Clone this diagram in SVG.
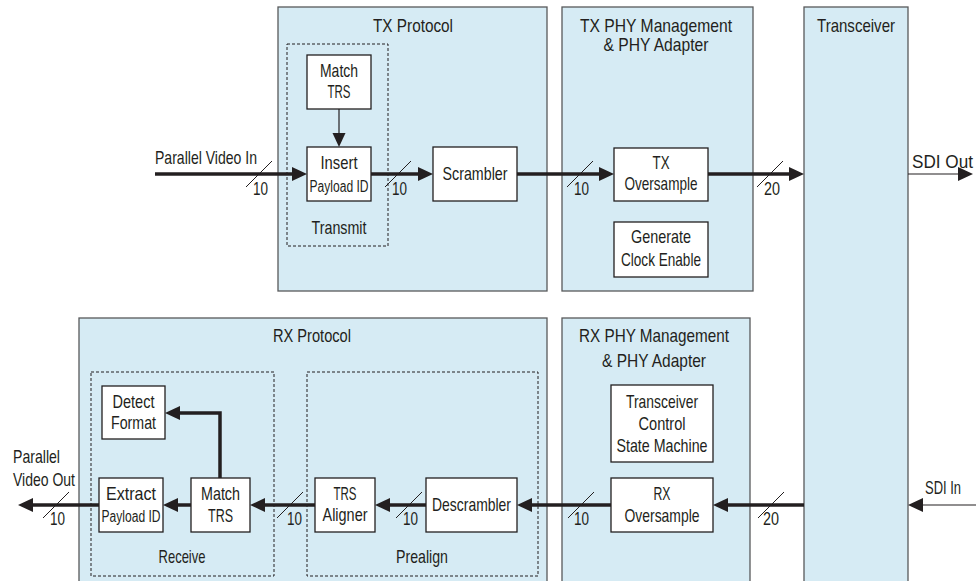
<svg xmlns="http://www.w3.org/2000/svg" width="976" height="581" viewBox="0 0 976 581">
<style>
text{font-family:"Liberation Sans",Arial,sans-serif;font-size:18.5px;fill:#231f20}
.c{text-anchor:middle}
.sm{font-size:16px}
.cont{fill:#d6ebf4;stroke:#58595b;stroke-width:1.3}
.blk{fill:#fff;stroke:#231f20;stroke-width:1.3}
.dash{fill:none;stroke:#231f20;stroke-width:1;stroke-dasharray:3 2}
.bus{fill:none;stroke:#231f20;stroke-width:3.5}
.thin{fill:none;stroke:#231f20;stroke-width:1.2}
.sl{stroke:#231f20;stroke-width:1}
</style>
<defs>
<marker id="ah" markerUnits="userSpaceOnUse" markerWidth="16" markerHeight="14" refX="1" refY="7" orient="auto" overflow="visible">
<path d="M0,0 L15,7 L0,14z" fill="#231f20"/>
</marker>
<marker id="ahs" markerUnits="userSpaceOnUse" markerWidth="15" markerHeight="13" refX="1" refY="6.5" orient="auto" overflow="visible">
<path d="M0,0 L14,6.5 L0,13z" fill="#231f20"/>
</marker>
</defs>

<!-- containers -->
<g id="tx-protocol">
<rect class="cont" x="278" y="7" width="269" height="284"/>
<text class="c" x="413" y="32" textLength="80" lengthAdjust="spacingAndGlyphs">TX Protocol</text>
</g>
<g id="tx-phy">
<rect class="cont" x="562" y="7" width="191" height="284"/>
<text class="c" x="656" y="32" textLength="152" lengthAdjust="spacingAndGlyphs">TX PHY Management</text>
<text class="c" x="656" y="51" textLength="105" lengthAdjust="spacingAndGlyphs">&amp; PHY Adapter</text>
</g>
<g id="transceiver">
<rect class="cont" x="804" y="7" width="104" height="590"/>
<text class="c" x="856" y="32" textLength="78" lengthAdjust="spacingAndGlyphs">Transceiver</text>
</g>
<g id="rx-protocol">
<rect class="cont" x="79" y="318" width="468" height="280"/>
<text class="c" x="312" y="342" textLength="78" lengthAdjust="spacingAndGlyphs">RX Protocol</text>
</g>
<g id="rx-phy">
<rect class="cont" x="562" y="318" width="188" height="280"/>
<text class="c" x="654" y="342" textLength="150" lengthAdjust="spacingAndGlyphs">RX PHY Management</text>
<text class="c" x="654" y="367" textLength="104" lengthAdjust="spacingAndGlyphs">&amp; PHY Adapter</text>
</g>

<!-- dashed groups -->
<g id="transmit">
<rect class="dash" x="287" y="44" width="101" height="202"/>
<text class="c" x="339" y="234" textLength="55" lengthAdjust="spacingAndGlyphs">Transmit</text>
</g>
<g id="receive">
<rect class="dash" x="91" y="372" width="183" height="204"/>
<text class="c" x="182" y="563" textLength="47" lengthAdjust="spacingAndGlyphs">Receive</text>
</g>
<g id="prealign">
<rect class="dash" x="307" y="372" width="231" height="204"/>
<text class="c" x="422" y="563" textLength="52" lengthAdjust="spacingAndGlyphs">Prealign</text>
</g>

<!-- blocks -->
<g id="tx-match-trs">
<rect class="blk" x="307" y="55" width="64" height="54"/>
<text class="c" x="339" y="77" textLength="38" lengthAdjust="spacingAndGlyphs">Match</text>
<text class="c" x="339" y="98" textLength="23" lengthAdjust="spacingAndGlyphs">TRS</text>
</g>
<g id="insert-payload-id">
<rect class="blk" x="307" y="147" width="64" height="54"/>
<text class="c" x="339" y="169" textLength="37" lengthAdjust="spacingAndGlyphs">Insert</text>
<text class="c sm" x="339" y="192" textLength="59" lengthAdjust="spacingAndGlyphs">Payload ID</text>
</g>
<g id="scrambler">
<rect class="blk" x="433" y="147" width="84" height="54"/>
<text class="c" x="475" y="180" textLength="65" lengthAdjust="spacingAndGlyphs">Scrambler</text>
</g>
<g id="tx-oversample">
<rect class="blk" x="614" y="148" width="94" height="53"/>
<text class="c" x="661" y="169" textLength="17" lengthAdjust="spacingAndGlyphs">TX</text>
<text class="c" x="661" y="190" textLength="73" lengthAdjust="spacingAndGlyphs">Oversample</text>
</g>
<g id="generate-clock-enable">
<rect class="blk" x="614" y="222" width="94" height="55"/>
<text class="c" x="661" y="243" textLength="60" lengthAdjust="spacingAndGlyphs">Generate</text>
<text class="c" x="661" y="266" textLength="80" lengthAdjust="spacingAndGlyphs">Clock Enable</text>
</g>
<g id="detect-format">
<rect class="blk" x="102" y="386" width="63" height="53"/>
<text class="c" x="133.5" y="408" textLength="42" lengthAdjust="spacingAndGlyphs">Detect</text>
<text class="c" x="133.5" y="429" textLength="45" lengthAdjust="spacingAndGlyphs">Format</text>
</g>
<g id="extract-payload-id">
<rect class="blk" x="99" y="478" width="64" height="54"/>
<text class="c" x="131" y="500" textLength="50" lengthAdjust="spacingAndGlyphs">Extract</text>
<text class="c sm" x="131" y="522" textLength="59" lengthAdjust="spacingAndGlyphs">Payload ID</text>
</g>
<g id="rx-match-trs">
<rect class="blk" x="191" y="478" width="59" height="54"/>
<text class="c" x="220.5" y="500" textLength="39" lengthAdjust="spacingAndGlyphs">Match</text>
<text class="c" x="220.5" y="522" textLength="25" lengthAdjust="spacingAndGlyphs">TRS</text>
</g>
<g id="trs-aligner">
<rect class="blk" x="315" y="478" width="60" height="54"/>
<text class="c" x="345" y="500" textLength="23" lengthAdjust="spacingAndGlyphs">TRS</text>
<text class="c" x="345" y="521" textLength="45" lengthAdjust="spacingAndGlyphs">Aligner</text>
</g>
<g id="descrambler">
<rect class="blk" x="426" y="478" width="91" height="54"/>
<text class="c" x="471.5" y="511" textLength="79" lengthAdjust="spacingAndGlyphs">Descrambler</text>
</g>
<g id="transceiver-control">
<rect class="blk" x="611" y="385" width="102" height="77"/>
<text class="c" x="662" y="408" textLength="72" lengthAdjust="spacingAndGlyphs">Transceiver</text>
<text class="c" x="662" y="430" textLength="47" lengthAdjust="spacingAndGlyphs">Control</text>
<text class="c" x="662" y="452" textLength="91" lengthAdjust="spacingAndGlyphs">State Machine</text>
</g>
<g id="rx-oversample">
<rect class="blk" x="611" y="478" width="102" height="54"/>
<text class="c" x="662" y="500" textLength="17" lengthAdjust="spacingAndGlyphs">RX</text>
<text class="c" x="662" y="522" textLength="75" lengthAdjust="spacingAndGlyphs">Oversample</text>
</g>

<!-- connectors -->
<g id="connectors">
<line class="bus" x1="155" y1="174" x2="293" y2="174" marker-end="url(#ah)"/>
<line class="bus" x1="371" y1="174" x2="419" y2="174" marker-end="url(#ah)"/>
<line class="bus" x1="517" y1="174" x2="600" y2="174" marker-end="url(#ah)"/>
<line class="bus" x1="708" y1="174" x2="790" y2="174" marker-end="url(#ah)"/>
<line class="thin" x1="908" y1="174" x2="959" y2="174" marker-end="url(#ah)"/>
<line class="thin" x1="339" y1="109" x2="339" y2="134" marker-end="url(#ahs)"/>

<line class="bus" x1="804" y1="505" x2="727" y2="505" marker-end="url(#ah)"/>
<line class="bus" x1="611" y1="505" x2="531" y2="505" marker-end="url(#ah)"/>
<line class="bus" x1="426" y1="505" x2="389" y2="505" marker-end="url(#ah)"/>
<line class="bus" x1="315" y1="505" x2="264" y2="505" marker-end="url(#ah)"/>
<line class="bus" x1="191" y1="505" x2="177" y2="505" marker-end="url(#ah)"/>
<line class="bus" x1="99" y1="505" x2="32" y2="505" marker-end="url(#ah)"/>
<line class="thin" x1="976" y1="505" x2="922" y2="505" marker-end="url(#ah)"/>
<polyline class="bus" points="220,478 220,413 179,413" marker-end="url(#ah)"/>

<!-- bus width marks -->
<line class="sl" x1="246" y1="187" x2="272" y2="161"/>
<line class="sl" x1="385" y1="187" x2="411" y2="161"/>
<line class="sl" x1="567" y1="187" x2="593" y2="161"/>
<line class="sl" x1="757" y1="187" x2="783" y2="161"/>
<line class="sl" x1="43" y1="518" x2="69" y2="492"/>
<line class="sl" x1="277" y1="518" x2="303" y2="492"/>
<line class="sl" x1="396" y1="518" x2="422" y2="492"/>
<line class="sl" x1="568" y1="518" x2="594" y2="492"/>
<line class="sl" x1="758" y1="518" x2="784" y2="492"/>
<text x="253" y="195" textLength="15" lengthAdjust="spacingAndGlyphs">10</text>
<text x="392" y="195" textLength="15" lengthAdjust="spacingAndGlyphs">10</text>
<text x="574" y="195" textLength="15" lengthAdjust="spacingAndGlyphs">10</text>
<text x="764" y="195" textLength="16" lengthAdjust="spacingAndGlyphs">20</text>
<text x="50" y="525" textLength="15" lengthAdjust="spacingAndGlyphs">10</text>
<text x="287" y="525" textLength="15" lengthAdjust="spacingAndGlyphs">10</text>
<text x="403" y="525" textLength="15" lengthAdjust="spacingAndGlyphs">10</text>
<text x="574" y="525" textLength="15" lengthAdjust="spacingAndGlyphs">10</text>
<text x="763" y="525" textLength="16" lengthAdjust="spacingAndGlyphs">20</text>

<text x="155" y="164" textLength="102" lengthAdjust="spacingAndGlyphs">Parallel Video In</text>
<text x="912" y="168" textLength="61" lengthAdjust="spacingAndGlyphs">SDI Out</text>
<text x="13" y="463" textLength="47" lengthAdjust="spacingAndGlyphs">Parallel</text>
<text x="13" y="486" textLength="62" lengthAdjust="spacingAndGlyphs">Video Out</text>
<text x="925" y="494" textLength="36" lengthAdjust="spacingAndGlyphs">SDI In</text>
</g>
</svg>
